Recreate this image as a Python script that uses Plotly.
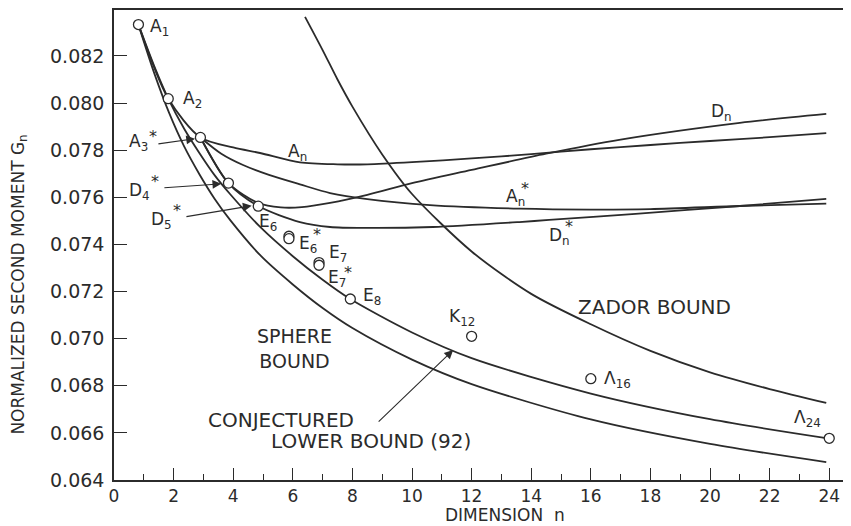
import plotly.graph_objects as go

INK = "#2b2b2b"
FONT = "DejaVu Sans"

# ---- curves (dimension n, normalized second moment G_n) ----
sphere_n = [0.82, 1.35, 1.85, 2.35, 2.87, 3.38, 3.9, 4.93, 6.0, 7.0, 8.0, 10.0, 12.0, 16.0, 20.0, 23.9]
sphere_g = [0.08333, 0.08127, 0.07958, 0.07817, 0.07697, 0.07593, 0.07503, 0.07351, 0.07230, 0.07130,
            0.07045, 0.06911, 0.06807, 0.06657, 0.06553, 0.06476]

conj_n = [0.82, 1.35, 1.82, 2.35, 2.87, 3.38, 3.9, 4.93, 6.0, 7.0, 7.93, 10.0, 12.0, 16.0, 20.0, 23.9]
conj_g = [0.08333, 0.08157, 0.08019, 0.07892, 0.07787, 0.07693, 0.07613, 0.07471, 0.07350, 0.07250,
          0.07168, 0.07026, 0.06917, 0.06767, 0.06658, 0.06578]

an_n = [0.82, 1.82, 2.9, 4.0, 4.9, 6.24, 7.5, 8.5, 10.0, 12.0, 14.0, 16.0, 18.0, 20.0, 22.0, 23.9]
an_g = [0.08333, 0.08019, 0.07854, 0.07812, 0.07788, 0.07748, 0.07740, 0.07740, 0.07749, 0.07765,
        0.07783, 0.07804, 0.07822, 0.07839, 0.07855, 0.07872]

ans_n = [2.9, 3.6, 4.33, 5.2, 6.24, 7.25, 8.5, 10.6, 13.6, 16.0, 18.0, 21.0, 23.9]
ans_g = [0.07854, 0.07785, 0.07737, 0.07695, 0.07655, 0.07618, 0.07592, 0.07567, 0.07552, 0.07548,
         0.07550, 0.07563, 0.07573]

dn_n = [2.9, 3.84, 4.85, 5.6, 6.3, 7.25, 8.5, 10.0, 12.0, 14.5, 17.0, 21.0, 23.9]
dn_g = [0.07854, 0.07660, 0.07575, 0.07557, 0.07558, 0.07576, 0.07610, 0.07660, 0.07716, 0.07785,
        0.07845, 0.07916, 0.07954]

dns_n = [2.9, 3.84, 4.84, 6.24, 7.25, 8.5, 10.7, 13.6, 14.6, 17.5, 21.0, 23.9]
dns_g = [0.07854, 0.07660, 0.07563, 0.07495, 0.07474, 0.07470, 0.07474, 0.07495, 0.07504, 0.07530,
         0.07563, 0.07593]

zador_n = [6.41, 7.0, 7.5, 8.0, 9.0, 10.0, 12.0, 14.0, 16.0, 18.0, 20.0, 22.0, 23.9]
zador_g = [0.08366, 0.08225, 0.08100, 0.07985, 0.07782, 0.07614, 0.07370, 0.07190, 0.07061, 0.06948,
           0.06857, 0.06786, 0.06727]

# ---- individual lattices ----
lat_names = ["A1", "A2", "A3*", "D4*", "D5*", "E6", "E6*", "E7", "E7*", "E8", "K12", "L16", "L24"]
lat_n = [0.82, 1.82, 2.9, 3.84, 4.84, 5.87, 5.87, 6.88, 6.88, 7.93, 12.0, 16.0, 24.0]
lat_g = [0.083333, 0.080188, 0.078543, 0.076603, 0.075625, 0.074347, 0.074244, 0.073231, 0.073116,
         0.071682, 0.070100, 0.068299, 0.065771]

x_ticks = list(range(0, 25, 2))
x_minor = list(range(1, 25, 2))
y_ticks = [0.064, 0.066, 0.068, 0.070, 0.072, 0.074, 0.076, 0.078, 0.080, 0.082]
y_ticktext = ["0.064", "0.066", "0.068", "0.070", "0.072", "0.074", "0.076", "0.078", "0.080", "0.082"]

fig = go.Figure()

line_style = dict(color=INK, width=1.8, shape="spline", smoothing=0.8)
for xs, ys in [(sphere_n, sphere_g), (conj_n, conj_g), (an_n, an_g), (ans_n, ans_g),
               (dn_n, dn_g), (dns_n, dns_g), (zador_n, zador_g)]:
    fig.add_trace(go.Scatter(x=xs, y=ys, mode="lines", line=line_style, hoverinfo="skip"))

fig.add_trace(go.Scatter(x=lat_n, y=lat_g, mode="markers", text=lat_names,
                         marker=dict(symbol="circle", size=10, color="white",
                                     line=dict(color=INK, width=1.3))))

# ---- text labels ----
def label(x, y, text, size=17, anchor="left"):
    fig.add_annotation(x=x, y=y, text=text, showarrow=False, xanchor=anchor, yanchor="middle",
                       font=dict(family=FONT, size=size, color=INK))

STAR = 16
label(1.14, 0.08319, "A<sub>1</sub>")
label(2.25, 0.08013, "A<sub>2</sub>")
label(0.44, 0.07831, "A<sub>3</sub>")
label(1.10, 0.07860, "*", STAR)
label(0.44, 0.07623, "D<sub>4</sub>")
label(1.16, 0.07669, "*", STAR)
label(1.17, 0.07500, "D<sub>5</sub>")
label(1.90, 0.07546, "*", STAR)
label(4.80, 0.07495, "E<sub>6</sub>")
label(6.14, 0.07398, "E<sub>6</sub>")
label(6.62, 0.07440, "*", STAR)
label(7.15, 0.07362, "E<sub>7</sub>")
label(7.11, 0.07255, "E<sub>7</sub>")
label(7.66, 0.07280, "*", STAR)
label(8.29, 0.07181, "E<sub>8</sub>")
label(11.17, 0.07088, "K<sub>12</sub>")
label(16.38, 0.06825, "Λ<sub>16</sub>")
label(22.75, 0.06663, "Λ<sub>24</sub>")
label(5.77, 0.07792, "A<sub>n</sub>")
label(13.09, 0.07601, "A<sub>n</sub>")
label(13.58, 0.07636, "*", STAR)
label(19.97, 0.07962, "D<sub>n</sub>")
label(14.53, 0.07432, "D<sub>n</sub>")
label(15.05, 0.07474, "*", STAR)
label(18.15, 0.07134, "ZADOR BOUND", 20, "center")
label(6.07, 0.06960, "SPHERE<br>BOUND", 19, "center")
label(5.60, 0.06655, "CONJECTURED", 20, "center")
label(8.62, 0.06566, "LOWER BOUND (92)", 20, "center")

# ---- leader arrows ----
def leader(x0, y0, x1, y1):
    fig.add_annotation(x=x1, y=y1, ax=x0, ay=y0, xref="x", yref="y", axref="x", ayref="y",
                       text="", showarrow=True, arrowhead=2, arrowsize=1.6, arrowwidth=1.1,
                       arrowcolor=INK, standoff=0)

leader(1.44, 0.07826, 2.72, 0.07849)
leader(1.64, 0.07640, 3.60, 0.07657)
leader(2.38, 0.07517, 4.62, 0.07564)
leader(8.83, 0.06642, 11.38, 0.06952)

# ---- axis titles ----
fig.add_annotation(xref="paper", yref="paper", x=-0.128, y=0.415, xanchor="center", yanchor="middle",
                   text="NORMALIZED SECOND MOMENT G<sub>n</sub>", textangle=-90, showarrow=False,
                   font=dict(family=FONT, size=17, color=INK))
fig.add_annotation(xref="paper", yref="paper", x=0.5305, y=-0.0755, xanchor="center", yanchor="middle",
                   text="DIMENSION  n", showarrow=False,
                   font=dict(family=FONT, size=17, color=INK))

# the page adds an 8px body margin, so the figure is 8px smaller than the window
fig.update_layout(
    width=843, height=518,
    margin=dict(l=106, r=0, t=2, b=46),
    paper_bgcolor="white", plot_bgcolor="white",
    showlegend=False,
    xaxis=dict(range=[0, 24.73], tickvals=x_ticks, ticks="inside", ticklen=12, tickwidth=1.3,
               tickcolor=INK, showline=True, linecolor=INK, linewidth=1.5, mirror=True,
               showgrid=False, zeroline=False, ticklabelstandoff=0,
               minor=dict(tickvals=x_minor, ticks="inside", ticklen=6, tickwidth=1.3, tickcolor=INK),
               tickfont=dict(family=FONT, size=17, color=INK)),
    yaxis=dict(range=[0.064, 0.08395], tickvals=y_ticks, ticktext=y_ticktext, ticks="inside",
               ticklen=13, tickwidth=1.3, tickcolor=INK, showline=True, linecolor=INK, linewidth=1.5,
               showgrid=False, zeroline=False, ticklabelstandoff=4,
               tickfont=dict(family=FONT, size=19, color=INK)),
)

fig.write_html("out.html")
